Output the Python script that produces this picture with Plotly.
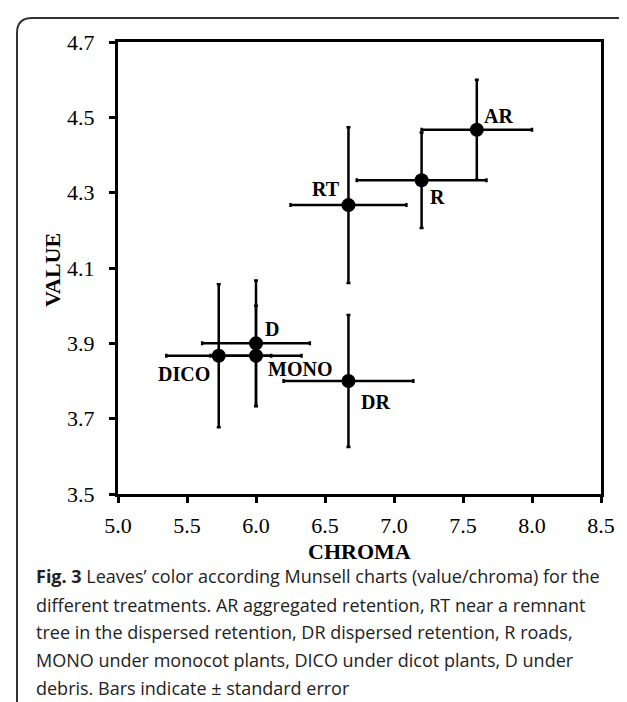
import plotly.graph_objects as go

# ---- data ----
treatments = ["AR", "R", "RT", "D", "MONO", "DICO", "DR"]
chroma = [7.60, 7.20, 6.67, 6.00, 6.00, 5.73, 6.67]
value = [4.467, 4.333, 4.267, 3.900, 3.867, 3.867, 3.800]
chroma_se = [0.40, 0.47, 0.42, 0.39, 0.33, 0.38, 0.47]
value_se = [0.133, 0.127, 0.207, 0.167, 0.133, 0.190, 0.175]

x_ticks = [5.0, 5.5, 6.0, 6.5, 7.0, 7.5, 8.0, 8.5]
x_tick_labels = ["5.0", "5.5", "6.0", "6.5", "7.0", "7.5", "8.0", "8.5"]
y_ticks = [3.5, 3.7, 3.9, 4.1, 4.3, 4.5, 4.7]
y_tick_labels = ["3.5", "3.7", "3.9", "4.1", "4.3", "4.5", "4.7"]

caption_lines = [
    "<b>Fig. 3</b> Leaves\u2019 color according Munsell charts (value/chroma) for the",
    "different treatments. AR aggregated retention, RT near a remnant",
    "tree in the dispersed retention, DR dispersed retention, R roads,",
    "MONO under monocot plants, DICO under dicot plants, D under",
    "debris. Bars indicate \u00b1 standard error",
]

# ---- layout geometry (pixels) ----
W, H = 627, 702
ML, MR, MT, MB = 110, 34, 34, 216
PW, PH = W - ML - MR, H - MT - MB

def px(xp):
    return (xp - ML) / PW

def py(yp):
    return (H - MB - yp) / PH

serif = "Liberation Serif, Times New Roman, serif"
sans = "Open Sans, Noto Sans, sans-serif"

# label offsets in pixels (dx right, dy up)
label_offsets = {
    "AR": (22, 14), "R": (16, -17), "RT": (-22, 16), "D": (16, 14),
    "MONO": (44, -13), "DICO": (-35, -18), "DR": (27, -21),
}

fig = go.Figure()
fig.add_trace(go.Scatter(
    x=chroma, y=value, mode="markers",
    marker=dict(color="black", size=14),
    error_x=dict(type="data", array=chroma_se, color="black", thickness=2.5, width=2),
    error_y=dict(type="data", array=value_se, color="black", thickness=2.5, width=2),
    showlegend=False, hoverinfo="skip",
))

annotations = []
for t, xv, yv in zip(treatments, chroma, value):
    dx, dy = label_offsets[t]
    annotations.append(dict(
        x=xv, y=yv, xref="x", yref="y", text="<b>%s</b>" % t, showarrow=False,
        xshift=dx, yshift=dy, font=dict(family=serif, size=20, color="black"),
    ))

annotations.append(dict(
    x=px(351.5), y=py(543), xref="paper", yref="paper", text="<b>CHROMA</b>",
    showarrow=False, xanchor="center", yanchor="middle",
    font=dict(family=serif, size=22, color="black"),
))
annotations.append(dict(
    x=px(44), y=py(262), xref="paper", yref="paper", text="<b>VALUE</b>",
    showarrow=False, xanchor="center", yanchor="middle", textangle=-90,
    font=dict(family=serif, size=22, color="black"),
))

cap_y = [568, 597, 624, 652, 680]
for line, yy in zip(caption_lines, cap_y):
    annotations.append(dict(
        x=px(26), y=py(yy), xref="paper", yref="paper", text=line,
        showarrow=False, xanchor="left", yanchor="middle",
        font=dict(family=sans, size=18, color="#222222"),
    ))

# rounded frame around the figure (extends beyond bottom/right edges)
pts = [(9, 720), (9, 25), (9, 10), (24, 10), (625, 10), (640, 10), (640, 25), (640, 720)]
P = [(px(a), py(b)) for a, b in pts]
path = ("M %f,%f L %f,%f Q %f,%f %f,%f L %f,%f Q %f,%f %f,%f L %f,%f" % (
    P[0] + P[1] + P[2] + P[3] + P[4] + P[5] + P[6] + P[7]))

fig.update_layout(
    width=W, height=H,
    margin=dict(l=ML, r=MR, t=MT, b=MB, autoexpand=False),
    paper_bgcolor="white", plot_bgcolor="white",
    annotations=annotations,
    shapes=[dict(type="path", path=path, xref="paper", yref="paper",
                 line=dict(color="#333333", width=2), layer="above")],
    xaxis=dict(
        range=[5.0, 8.5], tickvals=x_ticks, ticktext=x_tick_labels,
        showgrid=False, zeroline=False, showline=True, linecolor="black", linewidth=3,
        mirror=True, ticks="outside", ticklen=6, tickwidth=3, tickcolor="black",
        tickfont=dict(family=serif, size=22, color="black"), ticklabelstandoff=4,
    ),
    yaxis=dict(
        range=[3.5, 4.7], tickvals=y_ticks, ticktext=y_tick_labels,
        showgrid=False, zeroline=False, showline=True, linecolor="black", linewidth=3,
        mirror=True, ticks="outside", ticklen=6, tickwidth=3, tickcolor="black",
        tickfont=dict(family=serif, size=22, color="black"), ticklabelstandoff=10,
    ),
)

fig.write_html("out.html")
